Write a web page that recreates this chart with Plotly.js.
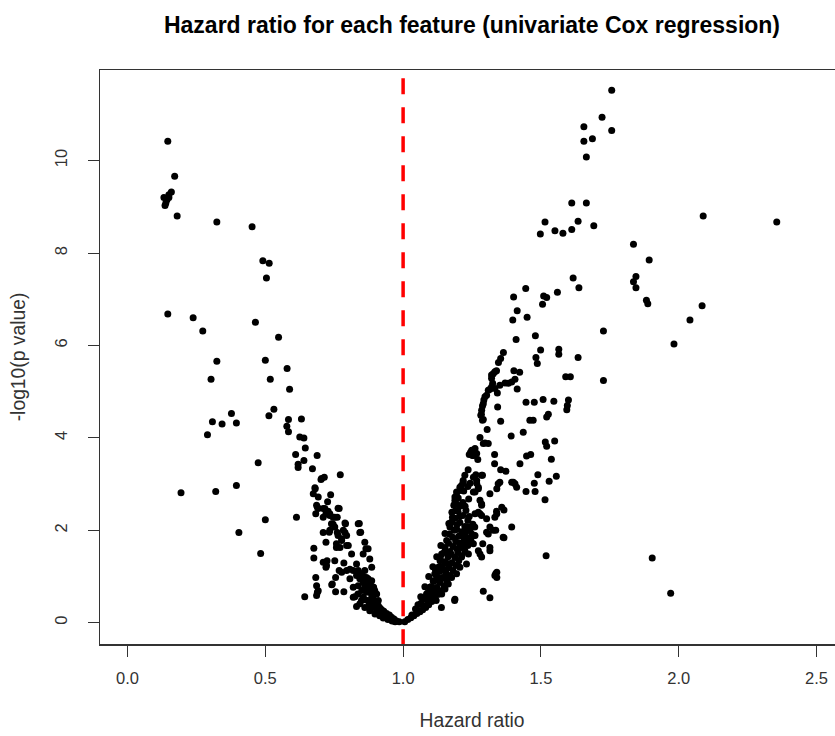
<!DOCTYPE html>
<html>
<head>
<meta charset="utf-8">
<script src="https://cdn.plot.ly/plotly-3.0.1.min.js"></script>
<style>
html, body { margin: 0; padding: 0; overflow: hidden; background: #fff; }
#chart { width: 860px; height: 736px; }
</style>
</head>
<body>
<div id="chart"></div>
<script>
// Features with hazard ratio < 1 (hazard ratio, -log10 p value)
const leftHR = [
0.146,0.171,0.159,0.150,0.132,0.143,0.150,0.139,0.136,0.180,0.324,0.452,0.491,0.514,0.504,
0.146,0.238,0.273,0.464,0.548,0.324,0.500,0.579,0.303,0.518,0.588,0.531,0.513,0.584,0.631,
0.578,0.584,0.377,0.308,0.343,0.395,0.290,0.625,0.640,0.645,0.610,0.688,0.640,0.619,0.619,
0.671,0.474,0.772,0.704,0.714,0.194,0.320,0.395,0.674,0.681,0.692,0.737,0.726,0.689,0.710,
0.683,0.768,0.734,0.752,0.613,0.500,0.789,0.841,0.846,0.710,0.732,0.404,0.764,0.783,0.777,
0.720,0.758,0.795,0.861,0.873,0.676,0.676,0.483,0.710,0.722,0.752,0.785,0.813,0.831,0.855,
0.879,0.886,0.807,0.843,0.867,0.683,0.755,0.741,0.686,0.689,0.755,0.785,0.643,0.825,0.891,
0.904,0.692,0.686,0.743,0.724,0.720,0.768,0.777,0.795,0.807,0.837,0.819,0.831,0.849,0.865,
0.843,0.789,0.761,0.734,0.746,0.791,0.837,0.777,0.795,0.758,0.801,0.771,
0.819,0.831,0.843,0.855,0.861,0.873,0.867,0.879,0.886,0.891,0.898,0.901,0.910,0.916,0.922,
0.930,0.940,0.950,0.958,0.967,0.976,0.986,0.855,0.873,0.886,0.904,0.922,0.933,0.893,0.886,
0.873,0.861,0.849,0.837,0.819,0.843,0.861,0.879,0.898,
0.702,0.680,0.686,0.692,0.716,0.728,0.720,0.734,0.710,0.746,0.764,0.761,0.740,0.752,
0.836,0.850,0.862,0.876,0.890,0.905,0.915,0.928,0.945,0.960,0.971,0.910,0.897,0.880,0.868,0.855
];
const leftP = [
10.42,9.66,9.32,9.26,9.20,9.15,9.20,9.08,9.03,8.80,8.67,8.57,7.83,7.78,7.46,
6.68,6.60,6.31,6.50,6.18,5.66,5.68,5.50,5.27,5.27,5.05,4.62,4.48,4.40,4.41,
4.25,4.13,4.53,4.35,4.30,4.32,4.07,4.02,4.00,3.78,3.64,3.62,3.51,3.43,3.36,
3.33,3.46,3.20,3.12,3.15,2.81,2.84,2.97,2.79,2.90,2.72,2.77,2.62,2.50,2.47,
2.36,2.47,2.36,2.28,2.28,2.23,2.16,2.15,1.96,1.95,1.96,1.95,1.89,2.00,1.82,
1.74,1.63,1.67,1.74,1.60,1.61,1.40,1.50,1.31,1.24,1.34,1.29,1.49,1.27,1.49,
1.38,1.20,1.16,1.06,0.98,0.98,0.98,0.82,0.80,0.66,0.67,0.67,0.56,0.56,0.77,
0.62,0.69,0.59,0.84,1.34,1.20,1.13,1.09,1.13,0.95,1.13,0.77,0.35,0.48,1.60,
1.95,1.95,1.95,2.00,2.13,2.14,2.14,1.78,1.89,1.71,1.67,1.63,
1.13,1.02,0.95,0.87,0.77,0.80,0.66,0.69,0.59,0.51,0.62,0.44,0.37,0.32,0.28,
0.25,0.20,0.17,0.12,0.08,0.04,0.02,0.55,0.48,0.41,0.30,0.19,0.15,0.77,0.91,
0.95,1.13,1.06,0.80,0.55,0.41,0.33,0.26,0.19,
3.10,2.92,2.54,2.47,2.47,2.41,2.36,2.32,2.28,2.28,2.48,2.28,2.14,2.07,
0.62,0.70,0.50,0.38,0.33,0.22,0.15,0.10,0.07,0.04,0.02,0.48,0.70,0.85,0.88,1.00
];

// Features with hazard ratio > 1 (hazard ratio, -log10 p value)
const rightHR = [
1.006,1.017,1.028,1.039,1.050,1.061,1.071,1.082,1.093,1.104,1.115,1.032,1.054,1.075,1.090,
1.079,1.101,1.126,1.111,1.090,1.137,1.122,1.101,1.148,1.133,1.111,1.159,1.144,1.122,1.170,
1.155,1.133,1.181,1.166,1.141,1.191,1.177,1.152,1.202,1.188,1.163,1.213,1.199,1.170,1.224,
1.210,1.181,1.235,1.220,1.191,1.246,1.231,1.202,1.257,1.213,1.242,1.195,1.224,1.253,1.206,
1.235,1.188,1.217,1.199,1.228,1.206,1.188,1.217,1.177,1.166,1.152,1.137,1.122,1.108,1.093,
1.079,1.064,1.054,
1.139,1.187,1.273,1.289,1.315,1.291,1.315,1.333,1.340,1.261,1.285,1.303,1.340,1.358,1.327,
1.303,1.363,1.285,1.249,1.261,
1.506,1.414,1.398,1.450,1.888,2.085,2.041,1.727,1.983,1.410,1.480,1.499,1.565,1.565,1.635,
1.482,1.487,1.364,1.354,1.346,1.339,1.327,1.321,1.325,1.315,1.303,1.293,1.288,1.402,1.423,
1.406,1.414,1.370,1.351,1.333,1.342,1.590,1.607,1.727,1.446,1.476,1.508,1.547,1.600,1.596,
1.594,1.284,1.291,1.305,1.279,1.291,1.309,1.343,1.354,1.460,1.472,1.521,1.527,1.392,1.436,
1.516,1.521,1.550,1.245,1.261,1.267,1.252,1.271,1.240,1.332,1.332,1.424,1.448,1.463,1.538,
1.236,1.264,1.288,1.354,1.373,1.489,1.556,
1.218,1.212,1.206,1.194,1.188,1.184,1.191,1.179,1.176,1.170,1.168,1.158,1.152,1.140,1.134,
1.128,1.115,1.109,1.097,1.085,1.073,
1.243,1.267,1.261,1.273,1.279,1.273,1.279,1.315,1.336,1.339,1.366,1.394,1.366,1.315,1.285,
1.279,1.336,1.340,1.230,1.243,1.260,1.249,1.224,1.237,1.255,1.218,1.237,1.212,1.230,1.206,
1.194,1.176,1.164,1.152,1.140,1.188,
1.519,1.904,1.971,
1.476,1.479,1.446,1.530,1.515,1.394,1.406,1.412,1.345,1.340,1.315,1.333,1.309,
1.757,1.722,1.656,1.757,1.656,1.687,1.665,1.612,1.665,1.515,1.635,1.498,1.551,1.580,1.612,
1.692,2.089,2.356,1.836,1.893,1.845,1.836,1.845,1.883,1.617,1.638,1.445,1.401,1.510,1.521,
1.560,
1.333,1.321,1.321,1.309,1.297,1.291,1.285,1.282,1.288,1.297,1.249,1.255,1.224,1.218,1.206,
1.194,1.188,1.194,1.212,1.255,1.267,1.285,1.273,1.255,1.285,1.351,1.400,1.382,1.394,
1.100,1.118,1.130,1.155,1.117,1.147,1.160,1.135,1.175,1.150,1.195,1.165,1.205,1.180,1.220,
1.185,1.228,1.195,1.240,1.205,1.225,1.238,1.200,1.220,1.235,1.065,1.085,1.045,1.120
];
const rightP = [
0.02,0.07,0.11,0.15,0.20,0.24,0.28,0.33,0.39,0.46,0.52,0.17,0.26,0.37,0.48,
0.54,0.56,0.61,0.65,0.65,0.69,0.76,0.78,0.80,0.87,0.89,0.91,0.98,1.00,1.02,
1.08,1.11,1.13,1.19,1.21,1.24,1.30,1.32,1.34,1.41,1.43,1.45,1.52,1.54,1.56,
1.63,1.65,1.67,1.74,1.76,1.78,1.84,1.87,1.89,1.97,2.00,2.02,2.08,2.13,2.17,
2.21,2.26,2.32,2.41,2.43,2.52,2.58,2.60,2.39,2.15,1.93,1.67,1.43,1.21,1.00,
0.78,0.56,0.39,
0.33,0.48,1.56,1.71,1.63,0.68,0.54,1.02,1.09,2.36,2.32,2.25,2.36,2.50,2.00,
1.96,1.85,2.57,2.07,1.89,
6.89,6.75,6.55,6.61,6.90,6.86,6.55,6.31,6.03,6.13,6.21,5.90,5.92,5.81,5.74,
5.74,5.61,5.85,5.72,5.63,5.45,5.39,5.29,5.18,5.05,4.92,4.82,4.69,5.45,5.42,
5.27,5.06,5.19,5.14,5.07,4.97,5.32,5.32,5.24,4.77,4.77,4.83,4.79,4.82,4.70,
4.61,4.51,4.40,4.18,4.01,3.88,3.88,4.67,4.36,4.38,4.38,4.45,4.51,4.04,4.12,
3.91,3.82,3.93,3.69,3.77,3.66,3.62,3.53,3.64,3.64,3.44,3.44,3.61,3.64,3.54,
3.31,3.20,3.19,3.31,3.28,3.20,3.17,
3.04,2.97,2.86,2.75,2.65,2.54,2.43,2.28,2.18,2.07,1.92,1.78,1.63,1.49,1.34,
1.20,1.06,0.91,0.77,0.62,0.51,
3.02,3.02,2.83,2.90,2.65,2.39,2.36,2.07,2.00,2.41,2.44,2.07,1.84,1.56,1.42,
1.49,1.06,0.98,2.07,2.07,2.07,1.92,1.92,1.78,1.71,1.63,1.49,1.42,1.27,1.20,
1.06,0.98,0.84,0.73,0.62,0.51,
1.45,1.40,0.64,
3.02,2.84,2.84,3.06,2.66,3.04,3.01,2.93,3.01,2.90,2.79,2.28,1.92,
11.52,10.94,10.73,10.65,10.42,10.47,10.08,9.08,9.08,8.67,8.69,8.41,8.48,8.43,8.51,
8.59,8.80,8.67,8.19,7.85,7.49,7.38,7.25,6.98,7.46,7.25,7.23,7.05,7.07,7.04,
7.15,
5.43,5.36,5.10,5.03,4.89,4.74,4.60,4.49,4.38,3.89,3.73,3.62,3.19,3.08,2.93,
2.83,2.72,2.57,2.54,3.15,3.08,3.19,2.93,2.83,2.54,3.04,3.04,5.18,5.21,
0.70,0.72,0.95,0.95,1.16,1.15,1.28,1.40,1.48,1.53,1.60,1.72,1.72,1.85,1.85,
2.00,1.98,2.12,2.30,2.30,2.52,2.68,2.70,2.85,2.95,0.42,0.55,0.30,0.48
];

const xTicks = [0.0, 0.5, 1.0, 1.5, 2.0, 2.5];
const xTickText = ["0.0", "0.5", "1.0", "1.5", "2.0", "2.5"];
const yTicks = [0, 2, 4, 6, 8, 10];
const yTickText = ["0", "2", "4", "6", "8", "10"];
const referenceHR = 1;

const FONT = "Liberation Sans, Arial, Helvetica, sans-serif";

const trace = {
  type: "scatter",
  mode: "markers",
  x: leftHR.concat(rightHR),
  y: leftP.concat(rightP),
  marker: { color: "#000000", size: 7, line: { width: 0 } },
  hoverinfo: "x+y",
  showlegend: false
};

const layout = {
  width: 860,
  height: 736,
  margin: { l: 100, r: 16, t: 70, b: 92 },
  paper_bgcolor: "#ffffff",
  plot_bgcolor: "#ffffff",
  font: { family: FONT, color: "#222222" },
  title: {
    text: "<b>Hazard ratio for each feature (univariate Cox regression)</b>",
    font: { family: FONT, size: 23, color: "#000000" },
    x: 0.5, xref: "paper", xanchor: "center",
    y: 1 - 25 / 736, yref: "container", yanchor: "middle"
  },
  xaxis: {
    range: [-0.1, 2.6],
    tickvals: xTicks,
    ticktext: xTickText,
    ticks: "outside",
    ticklen: 11,
    tickwidth: 1,
    tickcolor: "#333333",
    showline: true,
    mirror: true,
    linecolor: "#333333",
    linewidth: 1.5,
    showgrid: false,
    zeroline: false,
    ticklabelstandoff: 8,
    tickfont: { family: FONT, size: 16.5, color: "#333333" },
    title: { text: "Hazard ratio", font: { family: FONT, size: 19.3, color: "#333333" }, standoff: 27 }
  },
  yaxis: {
    range: [-0.46, 11.96],
    tickvals: yTicks,
    ticktext: yTickText,
    tickangle: -90,
    ticks: "outside",
    ticklen: 11,
    tickwidth: 1,
    tickcolor: "#333333",
    showline: true,
    mirror: true,
    linecolor: "#333333",
    linewidth: 1.5,
    showgrid: false,
    zeroline: false,
    ticklabelstandoff: 14,
    tickfont: { family: FONT, size: 16.5, color: "#333333" },
    title: { text: "-log10(p value)", font: { family: FONT, size: 19.3, color: "#333333" }, standoff: 21 }
  },
  shapes: [{
    type: "line",
    xref: "x", yref: "y",
    x0: referenceHR, x1: referenceHR,
    y0: 12.41, y1: -1,
    line: { color: "#ff0000", width: 3.5, dash: "16px,13px" },
    layer: "above"
  }]
};

Plotly.newPlot("chart", [trace], layout, { staticPlot: true, displayModeBar: false });
</script>
</body>
</html>
